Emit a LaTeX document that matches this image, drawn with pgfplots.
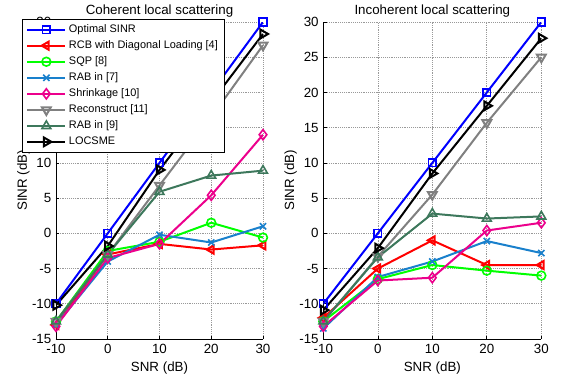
\documentclass[border=0pt]{standalone}
\usepackage{pgfplots}
\pgfplotsset{compat=1.18}
\usepackage{fontspec}
\setmainfont{Liberation Sans}
\definecolor{cRAB}{rgb}{0.1,0.5,0.8}
\definecolor{cRAB9}{rgb}{0.24,0.47,0.36}
\pgfplotsset{
  every axis/.style={
    scale only axis, height=237.75pt,
    xmin=-10, xmax=30, ymin=-15, ymax=30,
    xtick={-10,0,10,20,30}, ytick={-15,-10,-5,0,5,10,15,20,25,30},
    axis x line*=bottom, axis y line*=left,
    axis line style={black, line width=0.6pt, -},
    tick align=inside, major tick length=2.5pt,
    tick style={black, line width=0.5pt},
    grid=major, grid style={densely dotted, gray!80, line width=0.5pt},
    /pgf/number format/assume math mode=true,
    tick label style={font=\fontsize{10}{12}\selectfont},
    label style={font=\fontsize{10}{12}\selectfont},
    ylabel style={yshift=-5pt},
    title style={font=\fontsize{10}{12}\selectfont, yshift=-6pt},
    xlabel={SNR (dB)}, ylabel={SINR (dB)},
    every axis plot/.append style={line width=1.5pt},
    mark options={solid, line width=1.2pt},
  },
}
\begin{document}
\begin{tikzpicture}
\useasboundingbox (0,0) rectangle (420.75pt,286.5pt);
\begin{axis}[at={(42pt,32.25pt)}, anchor=south west, width=155.25pt,
  title={Coherent local scattering},
  legend cell align=left,
  legend style={at={(-0.164,1.0095)}, anchor=north west, font=\fontsize{8.2}{9}\selectfont,
    draw=black, line width=0.5pt, fill=white, inner xsep=3pt, inner ysep=2pt, row sep=0.6pt},
  legend image code/.code={\draw[mark repeat=2,mark phase=2] plot coordinates {(0cm,0cm)(0.5cm,0cm)(1cm,0cm)};},
]
\addplot[blue, mark=square, mark size=2.8pt] coordinates {(-10,-10)(0,0)(10,10)(20,20)(30,30)};
\addlegendentry{Optimal SINR}
\addplot[red, mark=triangle, mark size=3.5pt, mark options={rotate=90}] coordinates {(-10,-13)(0,-3)(10,-1.5)(20,-2.3)(30,-1.7)};
\addlegendentry{RCB with Diagonal Loading [4]}
\addplot[green, mark=o, mark size=3.3pt] coordinates {(-10,-12.5)(0,-2.5)(10,-1.2)(20,1.5)(30,-0.6)};
\addlegendentry{SQP [8]}
\addplot[cRAB, mark=x, mark size=3.3pt] coordinates {(-10,-13)(0,-4)(10,-0.2)(20,-1.3)(30,1)};
\addlegendentry{RAB in [7]}
\addplot[magenta, mark=diamond, mark size=3.8pt] coordinates {(-10,-13.2)(0,-3.5)(10,-1.5)(20,5.4)(30,14)};
\addlegendentry{Shrinkage [10]}
\addplot[gray, mark=triangle, mark size=3.8pt, mark options={rotate=180}] coordinates {(-10,-12.5)(0,-3)(10,6.8)(20,16.5)(30,26.7)};
\addlegendentry{Reconstruct [11]}
\addplot[cRAB9, mark=triangle, mark size=3.8pt] coordinates {(-10,-12.5)(0,-3)(10,5.9)(20,8.2)(30,8.9)};
\addlegendentry{RAB in [9]}
\addplot[black, mark=triangle, mark size=3.8pt, mark options={rotate=-90}] coordinates {(-10,-10.2)(0,-1.8)(10,9)(20,18.6)(30,28.3)};
\addlegendentry{LOCSME}
\end{axis}
\begin{axis}[at={(242.5pt,32.25pt)}, anchor=south west, width=163.5pt,
  title={Incoherent local scattering}]
\addplot[blue, mark=square, mark size=2.8pt] coordinates {(-10,-10)(0,0)(10,10)(20,20)(30,30)};
\addplot[red, mark=triangle, mark size=3.5pt, mark options={rotate=90}] coordinates {(-10,-12)(0,-5)(10,-1)(20,-4.5)(30,-4.5)};
\addplot[green, mark=o, mark size=3.3pt] coordinates {(-10,-12.5)(0,-6.5)(10,-4.5)(20,-5.3)(30,-6)};
\addplot[cRAB, mark=x, mark size=3.3pt] coordinates {(-10,-13.5)(0,-6.2)(10,-4)(20,-1.1)(30,-2.8)};
\addplot[magenta, mark=diamond, mark size=3.8pt] coordinates {(-10,-13.2)(0,-6.7)(10,-6.3)(20,0.4)(30,1.5)};
\addplot[gray, mark=triangle, mark size=3.8pt, mark options={rotate=180}] coordinates {(-10,-12.5)(0,-3.3)(10,5.5)(20,15.7)(30,25)};
\addplot[cRAB9, mark=triangle, mark size=3.8pt] coordinates {(-10,-12.5)(0,-3.4)(10,2.8)(20,2.1)(30,2.4)};
\addplot[black, mark=triangle, mark size=3.8pt, mark options={rotate=-90}] coordinates {(-10,-10.9)(0,-2.1)(10,8.5)(20,18.1)(30,27.7)};
\end{axis}
\end{tikzpicture}
\end{document}
